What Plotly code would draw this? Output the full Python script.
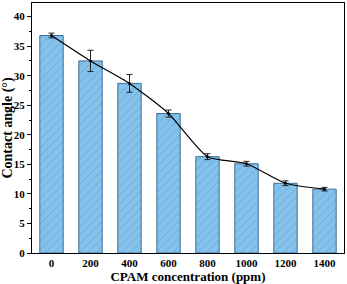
import plotly.graph_objects as go

categories = ["0", "200", "400", "600", "800", "1000", "1200", "1400"]
angles = [36.8, 32.5, 28.7, 23.6, 16.3, 15.1, 11.8, 10.8]
errors = [0.4, 1.8, 1.5, 0.6, 0.5, 0.4, 0.4, 0.3]

font = dict(family="Liberation Serif", size=12, color="black")

fig = go.Figure()
fig.add_trace(go.Bar(
    x=categories, y=angles, width=0.6,
    marker=dict(color="#84c2ec", line=dict(color="#3c6f96", width=1),
                pattern=dict(shape="/", fgcolor="#4a86b5", bgcolor="#84c2ec",
                             size=6, solidity=0.12, fgopacity=0.6)),
    showlegend=False,
))
fig.add_trace(go.Scatter(
    x=categories, y=angles, mode="lines+markers",
    line=dict(color="black", width=1.2, shape="spline", smoothing=0.6),
    marker=dict(color="black", size=3),
    error_y=dict(type="data", array=errors, color="#222222", thickness=1, width=3),
    showlegend=False,
))
fig.update_layout(
    width=347, height=284,
    margin=dict(l=32, r=2, t=2, b=30),
    plot_bgcolor="white", paper_bgcolor="white",
    font=font,
    bargap=0.4,
)
fig.update_xaxes(
    range=[-0.5, 7.5], showline=True, linecolor="black", linewidth=1, mirror=True,
    ticks="", tickfont=dict(family="Liberation Serif", size=11, color="black", weight="bold"),
    title=dict(text="<b>CPAM concentration (ppm)</b>", font=dict(size=13), standoff=4),
    showgrid=False,
)
fig.update_yaxes(
    range=[0, 42.3], showline=True, linecolor="black", linewidth=1, mirror=True,
    ticks="outside", ticklen=4, tickwidth=1, tickcolor="black", dtick=5,
    minor=dict(ticks="outside", ticklen=2, dtick=2.5, tickcolor="black"),
    tickfont=dict(family="Liberation Serif", size=11, color="black", weight="bold"),
    title=dict(text="<b>Contact angle (°)</b>", font=dict(size=14), standoff=2),
    showgrid=False, zeroline=False,
)
fig.write_html("out.html", config={"displayModeBar": False},
               post_script="document.body.style.margin='0';")
